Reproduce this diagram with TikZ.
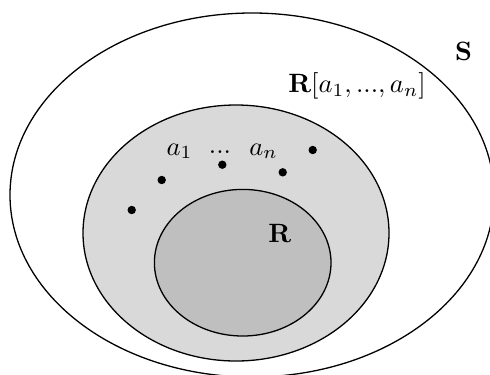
\documentclass[tikz,border=0pt]{standalone}
\usetikzlibrary{shapes.geometric}
\begin{document}
\begin{tikzpicture}[x=0.3774pt,y=-0.3774pt,
  setline/.style={line width=0.49pt,draw=black},
  elem/.style={fill=black,draw=none},
  lbl/.style={inner sep=0pt,outer sep=0pt,anchor=base west}]
\useasboundingbox (0,0) rectangle (490,374);
\clip (0,0) rectangle (490,374);
% outer set S
\draw[setline] (252,195) ellipse [x radius=242, y radius=182];
% R[a1,...,an]
\draw[setline,fill=black!15] (236,233) ellipse [x radius=153, y radius=128];
% R
\draw[setline,fill=black!25] (242.7,262.7) ellipse [x radius=88.3, y radius=73.3];
% elements
\fill[elem] (131.7,210) circle [radius=4.2];
\fill[elem] (161.7,180) circle [radius=4.2];
\fill[elem] (222.3,164.7) circle [radius=4.2];
\fill[elem] (282.7,172.3) circle [radius=4.2];
\fill[elem] (312.7,150) circle [radius=4.2];
% labels
\node[lbl] (S) at (455,60) {$\mathbf{S}$};
\node[lbl] (Ra) at (288.3,92.3) {$\mathbf{R}[a_1, ..., a_n]$};
\node[lbl] (a1) at (166.7,155) {$a_1$};
\node[inner sep=0pt,anchor=base] (dots) at (220,153) {$...$};
\node[lbl] (an) at (249.3,155) {$a_n$};
\node[lbl] (R) at (268.3,242.3) {$\mathbf{R}$};
\end{tikzpicture}
\end{document}
